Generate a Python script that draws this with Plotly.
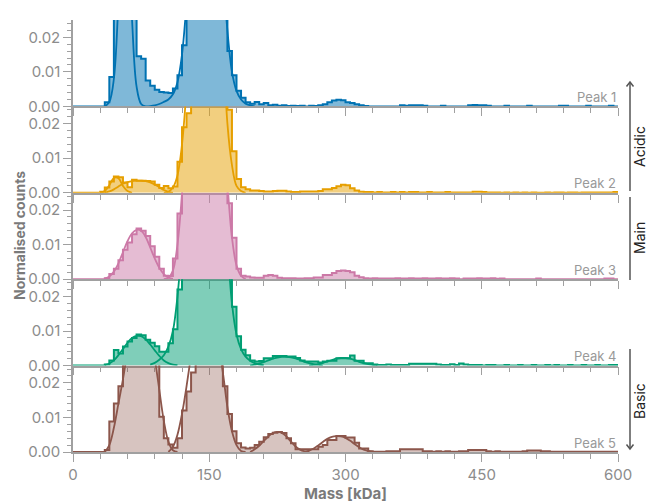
import plotly.graph_objects as go
from plotly.subplots import make_subplots

# ---------------- data ----------------
BIN_WIDTH = 5
BIN_EDGES = list(range(0, 600 + BIN_WIDTH, BIN_WIDTH))  # 0..600 kDa, 120 bins

PEAK_LABELS = ["Peak 1", "Peak 2", "Peak 3", "Peak 4", "Peak 5"]
LINE_COLORS = ["#0072B2", "#E69F00", "#CC79A7", "#009E73", "#8C564B"]
FILL_ALPHA = [0.5, 0.5, 0.5, 0.5, 0.35]

# normalised counts per 5 kDa bin (left edges 0, 5, 10, ...)
HIST_PEAK1 = [
    0, 0, 0, 0, 0, 0, 0, 0.0012, 0.0085, 0.045,
    0.058, 0.062, 0.055, 0.035, 0.0145, 0.0138, 0.0075, 0.006, 0.0048, 0.0042,
    0.004, 0.0039, 0.0052, 0.009, 0.0177, 0.03, 0.045, 0.06, 0.07, 0.075,
    0.075, 0.07, 0.06, 0.045, 0.016, 0.009, 0.0045, 0.0025, 0.0012, 0.0008,
    0.0013, 0.0006, 0.001, 0.0003, 0.0005, 0.0002, 0.0003, 0.0001, 0.0002, 0.0001,
    0.0002, 0, 0.0002, 0.0001, 0.0003, 0.0006, 0.0012, 0.0017, 0.0019, 0.0018,
    0.0012, 0.001, 0.0006, 0.0003, 0.0001, 0, 0, 0, 0, 0,
    0, 0, 0.0003, 0.0002, 0.0003, 0.0003, 0.0003, 0.0002, 0, 0,
    0, 0.0002, 0, 0, 0, 0, 0, 0.0003, 0.0004, 0.0003,
    0.0003, 0.0002, 0, 0, 0, 0.0002, 0, 0, 0, 0,
    0.0002, 0, 0, 0, 0, 0, 0, 0.0002, 0.0002, 0,
    0, 0, 0, 0.0002, 0, 0, 0, 0, 0.0002, 0,
]
HIST_PEAK2 = [
    0, 0, 0, 0, 0, 0, 0.0003, 0.0015, 0.0033, 0.0047,
    0.0045, 0.003, 0.0016, 0.0038, 0.0035, 0.0035, 0.0034, 0.0033, 0.0023, 0.0014,
    0.002, 0.0013, 0.0018, 0.009, 0.019, 0.023, 0.05, 0.07, 0.085, 0.09,
    0.09, 0.085, 0.07, 0.05, 0.024, 0.012, 0.004, 0.0016, 0.001, 0.0007,
    0.0007, 0.0005, 0.0004, 0.0004, 0.0005, 0.0006, 0.0006, 0.0004, 0.0002, 0.0002,
    0.0004, 0.0004, 0.0004, 0.0004, 0.0005, 0.001, 0.001, 0.0014, 0.0019, 0.0023,
    0.0022, 0.0013, 0.0007, 0.0003, 0.0002, 0.0002, 0.0001, 0.0002, 0.0001, 0.0001,
    0.0002, 0.0001, 0.0002, 0.0001, 0.0002, 0.0002, 0.0001, 0.0001, 0.0002, 0.0001,
    0.0001, 0.0001, 0.0002, 0.0001, 0.0001, 0.0001, 0.0001, 0.0001, 0.0003, 0.0003,
    0.0002, 0.0001, 0.0001, 0.0001, 0, 0.0001, 0, 0.0001, 0, 0.0001,
    0, 0.0001, 0, 0, 0.0001, 0, 0.0001, 0.0001, 0, 0.0001,
    0.0001, 0, 0.0001, 0.0001, 0.0001, 0.0001, 0.0001, 0.0001, 0.0001, 0.0002,
]
HIST_PEAK3 = [
    0, 0, 0, 0, 0, 0, 0, 0.0003, 0.0015, 0.003,
    0.0055, 0.0085, 0.0106, 0.013, 0.0147, 0.014, 0.0125, 0.0095, 0.0065, 0.003,
    0.001, 0.0009, 0.006, 0.019, 0.035, 0.06, 0.08, 0.09, 0.095, 0.095,
    0.09, 0.08, 0.065, 0.045, 0.022, 0.012, 0.003, 0.001, 0.0008, 0.0005,
    0.0004, 0.0004, 0.001, 0.0012, 0.001, 0.0004, 0.0003, 0.0003, 0.0003, 0.0002,
    0.0002, 0.0003, 0.0003, 0.0005, 0.0005, 0.0012, 0.0012, 0.0018, 0.0024, 0.0025,
    0.0024, 0.002, 0.001, 0.0006, 0.0003, 0.0002, 0.0003, 0.0002, 0.0002, 0.0002,
    0.0002, 0.0003, 0.0002, 0.0002, 0.0003, 0.0002, 0.0002, 0.0003, 0.0002, 0.0002,
    0.0003, 0.0002, 0.0002, 0.0003, 0.0002, 0, 0.0002, 0.0002, 0.0002, 0.0003,
    0.0002, 0.0002, 0.0003, 0.0001, 0.0002, 0, 0, 0, 0, 0,
    0, 0, 0.0002, 0, 0, 0, 0, 0, 0, 0,
    0, 0, 0, 0, 0, 0, 0, 0.0002, 0.0002, 0,
]
HIST_PEAK4 = [
    0, 0, 0, 0, 0, 0, 0, 0.0003, 0.0015, 0.0045,
    0.0035, 0.0055, 0.007, 0.008, 0.009, 0.0088, 0.0075, 0.0066, 0.0056, 0.004,
    0.004, 0.0065, 0.0105, 0.022, 0.04, 0.06, 0.08, 0.09, 0.095, 0.095,
    0.095, 0.09, 0.08, 0.06, 0.03, 0.017, 0.0085, 0.0046, 0.003, 0.0015,
    0.0012, 0.0013, 0.0021, 0.0021, 0.0028, 0.0028, 0.0028, 0.0026, 0.0026, 0.0022,
    0.0015, 0.0012, 0.0012, 0.0012, 0.0009, 0.0012, 0.0014, 0.0014, 0.0021, 0.0021,
    0.0021, 0.0029, 0.0014, 0.0014, 0.0007, 0.0007, 0.0003, 0.0002, 0.0002, 0.0003,
    0.0002, 0.0002, 0.0002, 0.0002, 0.0005, 0.0005, 0.0005, 0.0005, 0.0005, 0.0005,
    0.0003, 0.0002, 0.0002, 0.0004, 0.0002, 0.0006, 0.0003, 0.0002, 0.0002, 0.0002,
    0, 0.0002, 0.0002, 0, 0, 0.0002, 0, 0, 0.0002, 0,
    0, 0.0002, 0, 0, 0.0002, 0, 0.0002, 0, 0, 0.0002,
    0, 0, 0.0002, 0, 0, 0.0002, 0, 0, 0.0002, 0.0002,
]
HIST_PEAK5 = [
    0, 0, 0, 0, 0, 0, 0, 0.0006, 0.0088, 0.014,
    0.019, 0.028, 0.04, 0.05, 0.055, 0.055, 0.05, 0.042, 0.03, 0.0102,
    0.004, 0.0022, 0.0012, 0.004, 0.012, 0.0175, 0.023, 0.035, 0.045, 0.048,
    0.048, 0.045, 0.03, 0.019, 0.011, 0.006, 0.0025, 0.0013, 0.001, 0.0012,
    0.002, 0.003, 0.0043, 0.0052, 0.0056, 0.0058, 0.0055, 0.004, 0.0025, 0.0008,
    0.0008, 0.0008, 0.0008, 0.0008, 0.0015, 0.002, 0.0035, 0.0035, 0.0046, 0.0046,
    0.0042, 0.0042, 0.0027, 0.001, 0.001, 0.0002, 0.0001, 0.0001, 0.0001, 0.0002,
    0.0002, 0.0002, 0.0008, 0.0008, 0.0008, 0.0008, 0.0008, 0.0002, 0.0002, 0.0001,
    0.0002, 0.0001, 0.0002, 0.0001, 0.0001, 0.0002, 0.0002, 0.0006, 0.0006, 0.0006,
    0.0006, 0.0002, 0.0001, 0.0002, 0.0001, 0.0001, 0.0001, 0.0001, 0.0001, 0.0002,
    0.0004, 0.0004, 0.0004, 0.0002, 0.0002, 0.0001, 0.0001, 0.0001, 0.0001, 0.0001,
    0.0001, 0.0001, 0.0001, 0.0001, 0.0001, 0.0001, 0.0001, 0.0001, 0.0001, 0.0001,
]

FIT1A_X = [35, 40, 45, 50, 55, 60, 65, 70, 75, 80]
FIT1A_Y = [0.0, 0.0013, 0.008, 0.03, 0.057, 0.053, 0.025, 0.0057, 0.0007, 0.0]
FIT1B_X = [80, 85, 90, 95, 100, 105, 110, 115, 120, 125, 130, 140, 150, 160, 165, 170, 175, 180, 185, 190, 195, 200]
FIT1B_Y = [0.0, 0.0001, 0.0003, 0.0007, 0.0013, 0.002, 0.0035, 0.007, 0.015, 0.03, 0.05, 0.075, 0.08, 0.065, 0.04, 0.022, 0.01, 0.0045, 0.002, 0.0008, 0.0003, 0.0]

FIT2A_X = [30, 35, 40, 45, 50, 55, 60, 65]
FIT2A_Y = [0.0, 0.0005, 0.0022, 0.0043, 0.0042, 0.002, 0.0005, 0.0]
FIT2B_X = [35, 40, 45, 50, 55, 60, 65, 70, 75, 80, 85, 90, 95, 100, 105, 110]
FIT2B_Y = [0.0, 0.0004, 0.001, 0.0018, 0.0026, 0.0031, 0.0034, 0.0035, 0.0035, 0.0034, 0.003, 0.0024, 0.0016, 0.0008, 0.0003, 0.0]
FIT2C_X = [100, 105, 110, 115, 120, 125, 130, 135, 140, 145, 150, 155, 160, 165, 170, 175, 180, 185, 190]
FIT2C_Y = [0.0, 0.0003, 0.0015, 0.005, 0.014, 0.03, 0.05, 0.07, 0.08, 0.085, 0.085, 0.08, 0.065, 0.045, 0.02, 0.008, 0.002, 0.0005, 0.0]

FIT3A_X = [35, 40, 45, 50, 55, 60, 65, 70, 75, 80, 85, 90, 95, 100, 105, 110]
FIT3A_Y = [0.0002, 0.0008, 0.0022, 0.0046, 0.0078, 0.011, 0.0133, 0.0143, 0.014, 0.0122, 0.0092, 0.006, 0.0033, 0.0015, 0.0005, 0.0001]
FIT3B_X = [100, 105, 110, 115, 120, 125, 130, 140, 150, 160, 165, 170, 175, 180, 185, 190]
FIT3B_Y = [0.0, 0.0004, 0.0025, 0.01, 0.025, 0.05, 0.075, 0.09, 0.09, 0.07, 0.05, 0.028, 0.012, 0.004, 0.001, 0.0]

FIT4A_X = [35, 40, 45, 50, 55, 60, 65, 70, 75, 80, 85, 90, 95, 100, 105, 110, 115]
FIT4A_Y = [0.0002, 0.0006, 0.0015, 0.003, 0.0048, 0.0066, 0.008, 0.0086, 0.0085, 0.0076, 0.0061, 0.0044, 0.0028, 0.0015, 0.0007, 0.0003, 0.0001]
FIT4B_X = [85, 90, 95, 100, 105, 110, 115, 120, 130, 140, 150, 160, 170, 175, 180, 185, 190, 195, 200, 205, 210]
FIT4B_Y = [0.0003, 0.0008, 0.0017, 0.003, 0.0055, 0.01, 0.02, 0.035, 0.06, 0.08, 0.085, 0.07, 0.035, 0.018, 0.009, 0.0048, 0.0026, 0.0014, 0.0007, 0.0003, 0.0001]
FIT4C_X = [195, 200, 205, 210, 215, 220, 225, 230, 235, 240, 245, 250, 255, 260, 265, 270, 275]
FIT4C_Y = [0.0, 0.0003, 0.0006, 0.001, 0.0015, 0.002, 0.0023, 0.0025, 0.0025, 0.0024, 0.0021, 0.0016, 0.0011, 0.0007, 0.0004, 0.0002, 0.0]
FIT4D_X = [260, 265, 270, 275, 280, 285, 290, 295, 300, 305, 310, 315, 320, 325, 330, 335]
FIT4D_Y = [0.0, 0.0002, 0.0004, 0.0008, 0.0012, 0.0016, 0.002, 0.0022, 0.0022, 0.002, 0.0016, 0.0011, 0.0007, 0.0004, 0.0002, 0.0]

FIT5A_X = [35, 40, 45, 50, 55, 60, 65, 70, 75, 80, 85, 90, 95, 100, 105, 110, 115]
FIT5A_Y = [0.0, 0.002, 0.007, 0.014, 0.021, 0.029, 0.035, 0.038, 0.039, 0.038, 0.034, 0.027, 0.018, 0.009, 0.003, 0.0005, 0.0]
FIT5B_X = [105, 110, 115, 120, 125, 130, 135, 140, 145, 150, 155, 160, 165, 170, 175, 180, 185, 190]
FIT5B_Y = [0.0, 0.0015, 0.005, 0.011, 0.019, 0.028, 0.036, 0.041, 0.043, 0.042, 0.038, 0.031, 0.023, 0.013, 0.006, 0.002, 0.0003, 0.0]
FIT5C_X = [195, 200, 205, 210, 215, 220, 225, 230, 235, 240, 245, 250, 255, 260]
FIT5C_Y = [0.0, 0.0008, 0.0018, 0.0032, 0.0045, 0.0055, 0.0058, 0.0055, 0.0045, 0.003, 0.0016, 0.0007, 0.0002, 0.0]
FIT5D_X = [255, 260, 265, 270, 275, 280, 285, 290, 295, 300, 305, 310, 315, 320, 325, 330]
FIT5D_Y = [0.0, 0.0004, 0.001, 0.0019, 0.0029, 0.0038, 0.0044, 0.0046, 0.0045, 0.0041, 0.0033, 0.0023, 0.0014, 0.0007, 0.0003, 0.0]

HISTS = [HIST_PEAK1, HIST_PEAK2, HIST_PEAK3, HIST_PEAK4, HIST_PEAK5]
FITS = [
    [(FIT1A_X, FIT1A_Y), (FIT1B_X, FIT1B_Y)],
    [(FIT2A_X, FIT2A_Y), (FIT2B_X, FIT2B_Y), (FIT2C_X, FIT2C_Y)],
    [(FIT3A_X, FIT3A_Y), (FIT3B_X, FIT3B_Y)],
    [(FIT4A_X, FIT4A_Y), (FIT4B_X, FIT4B_Y), (FIT4C_X, FIT4C_Y), (FIT4D_X, FIT4D_Y)],
    [(FIT5A_X, FIT5A_Y), (FIT5B_X, FIT5B_Y), (FIT5C_X, FIT5C_Y), (FIT5D_X, FIT5D_Y)],
]
GROUPS = ["Acidic", "Main", "Basic"]

# ---------------- figure ----------------
W, H = 659, 504
ML, MR, MT, MB = 73, 41, 20, 52
PW, PH = W - ML - MR, H - MT - MB
FONT = "Inter, Roboto, sans-serif"
AXC = "#a0a0a0"
TXC = "#8c8c8c"


def rgba(hexc, a):
    h = hexc.lstrip("#")
    return "rgba(%d,%d,%d,%.2f)" % (int(h[0:2], 16), int(h[2:4], 16), int(h[4:6], 16), a)


def px2x(p):
    return (p - ML) / PW


def px2y(p):
    return (MT + PH - p) / PH


fig = make_subplots(rows=5, cols=1, shared_xaxes=True, vertical_spacing=0)

for i in range(5):
    c = LINE_COLORS[i]
    vals = HISTS[i]
    fig.add_trace(go.Scatter(
        x=BIN_EDGES, y=vals + [vals[-1]], mode="lines",
        line=dict(shape="hv", color=c, width=2),
        fill="tozeroy", fillcolor=rgba(c, FILL_ALPHA[i]), hoverinfo="skip",
    ), row=i + 1, col=1)
    for fx, fy in FITS[i]:
        fig.add_trace(go.Scatter(
            x=fx, y=fy, mode="lines",
            line=dict(shape="spline", smoothing=1.0, color=c, width=1.8),
            hoverinfo="skip",
        ), row=i + 1, col=1)

    fig.update_yaxes(
        range=[0, 0.025], tickvals=[0, 0.01, 0.02], ticktext=["0.00", "0.01", "0.02"],
        ticks="outside", ticklen=8, tickwidth=1, tickcolor=AXC,
        showline=True, linecolor=AXC, linewidth=1.5,
        showgrid=False, zeroline=False,
        tickfont=dict(family=FONT, size=15, color=TXC),
        minor=dict(tickmode="linear", tick0=0, dtick=0.002, ticks="outside",
                   ticklen=4, tickcolor=AXC, showgrid=False),
        row=i + 1, col=1,
    )
    fig.update_xaxes(
        range=[0, 600], tickmode="linear", tick0=0, dtick=150,
        ticks="outside", ticklen=8, tickwidth=1, tickcolor=AXC,
        showline=True, linecolor=AXC, linewidth=1.5,
        showgrid=False, zeroline=False,
        tickfont=dict(family=FONT, size=15, color=TXC),
        minor=dict(tickmode="linear", tick0=0, dtick=30, ticks="outside",
                   ticklen=5, tickcolor=AXC, showgrid=False),
        row=i + 1, col=1,
    )

annotations = []
# peak labels
for i, lab in enumerate(PEAK_LABELS):
    base = (4 - i) / 5.0
    annotations.append(dict(
        text=lab, xref="paper", yref="paper", x=1.0, y=base + 9.5 / PH,
        xanchor="right", yanchor="middle", showarrow=False,
        font=dict(family=FONT, size=13, color="#999999"),
    ))

# axis titles
annotations.append(dict(
    text="<b>Normalised counts</b>", xref="paper", yref="paper",
    x=px2x(19), y=0.5, textangle=-90, showarrow=False,
    xanchor="center", yanchor="middle",
    font=dict(family=FONT, size=14, color="#7a7a7a"),
))
annotations.append(dict(
    text="<b>Mass [kDa]</b>", xref="paper", yref="paper",
    x=0.5, y=px2y(493), showarrow=False, xanchor="center", yanchor="middle",
    font=dict(family=FONT, size=15, color="#7a7a7a"),
))

# group labels on the right
group_text_y = [147, 238, 401]
for g, ty in zip(GROUPS, group_text_y):
    annotations.append(dict(
        text=g, xref="paper", yref="paper", x=px2x(639), y=px2y(ty),
        textangle=-90, showarrow=False, xanchor="center", yanchor="middle",
        font=dict(family=FONT, size=14, color="#222222"),
    ))

LX = px2x(630)
shapes = []
line_style = dict(color="#555555", width=1.5)
for (y0, y1) in [(191, 82), (197, 280), (349, 449)]:
    shapes.append(dict(type="line", xref="paper", yref="paper",
                       x0=LX, x1=LX, y0=px2y(y0), y1=px2y(y1), line=line_style))
# arrow heads
dx, dy = 3.5 / PW, 4.5 / PH
ya = px2y(82)
shapes.append(dict(type="path", xref="paper", yref="paper",
                   path="M %f %f L %f %f L %f %f" % (LX - dx, ya - dy, LX, ya, LX + dx, ya - dy),
                   line=line_style))
yb = px2y(449)
shapes.append(dict(type="path", xref="paper", yref="paper",
                   path="M %f %f L %f %f L %f %f" % (LX - dx, yb + dy, LX, yb, LX + dx, yb + dy),
                   line=line_style))

fig.update_layout(
    width=W, height=H,
    margin=dict(l=ML, r=MR, t=MT, b=MB),
    paper_bgcolor="white", plot_bgcolor="white",
    showlegend=False,
    annotations=annotations, shapes=shapes,
    font=dict(family=FONT),
)

fig.write_html(
    "out.html",
    config={"displayModeBar": False},
    post_script="document.body.style.margin='0';document.body.style.padding='0';",
)
